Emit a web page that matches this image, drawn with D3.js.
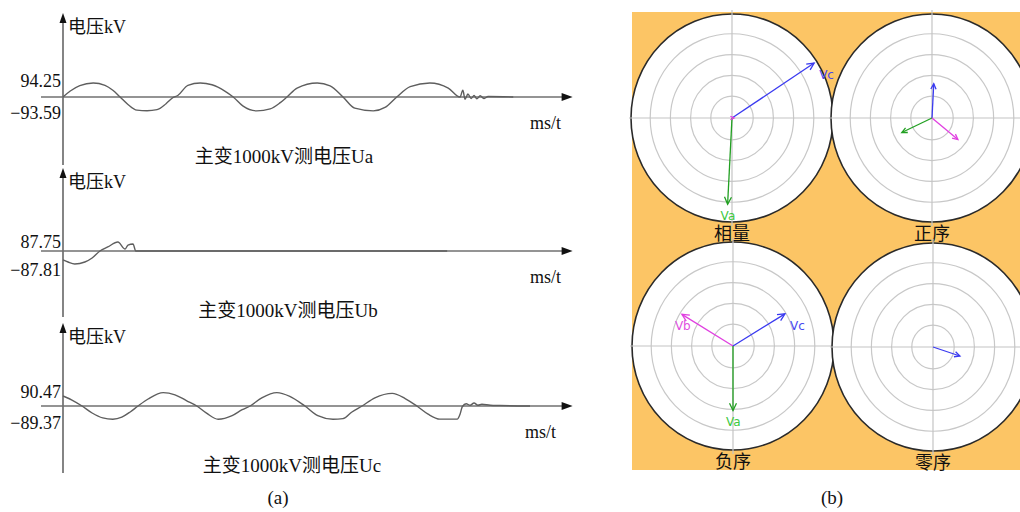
<!DOCTYPE html>
<html>
<head>
<meta charset="utf-8">
<script src="https://cdn.jsdelivr.net/npm/d3@7"></script>
<style>
  body { margin: 0; background: #fff; }
  text { font-family: "Liberation Serif", "Noto Sans CJK SC", serif; fill: #111; }
</style>
</head>
<body>
<div id="chart"></div>
<script>
// Waveform recordings (time in ms, voltage in kV)
const timeUa = [0, 1.3, 3.0, 5.4, 7.5, 8.9, 10.2, 11.6, 13.2, 15.0, 16.8, 18.4, 19.6, 20.5, 22.3, 24.5,
  26.6, 28.9, 30.4, 32.1, 34.6, 37.0, 38.8, 40.0, 41.8, 45.4, 47.7, 50.0, 52.1, 55.4, 57.5, 59.6,
  62.0, 65.5, 68.8, 70.9, 71.4, 71.8, 72.3, 72.9, 73.4, 73.9, 74.5, 75.2, 75.9, 80.4];
const voltUa = [0, 40, 76, 94, 78, 45, 0, -50, -88, -92, -85, -45, -5, 10, 78, 94,
  82, 40, 0, -60, -93, -80, -38, 0, 60, 94, 75, 0, -75, -93, -70, 0,
  70, 94, 60, 0, 45, -15, 20, -10, 10, -12, 8, -10, 3, 0];

const timeUb = [0, 0.9, 2.1, 3.9, 5.2, 6.6, 8.0, 9.8, 11.1, 11.6, 12.5, 13.0, 68.6];
const voltUb = [-60, -74, -87, -74, -47, 0, 27, 60, 13, 40, 47, 0, 0];

const timeUc = [0, 1.6, 3.4, 5.2, 7.1, 8.9, 10.5, 12.0, 13.4, 15.2, 17.9, 20.0, 22.1, 23.9, 25.7, 27.7,
  30.2, 32.0, 33.4, 35.5, 38.2, 40.5, 43.2, 45.5, 48.2, 50.0, 51.6, 53.4, 55.7, 58.8, 61.1, 63.2,
  65.2, 67.3, 70.4, 70.9, 71.3, 72.0, 72.7, 73.4, 74.1, 74.8, 76.3, 78.0, 83.4];
const voltUc = [67, 40, 0, -47, -80, -89, -75, -40, 0, 47, 90, 75, 35, 0, -50, -89,
  -65, -25, 0, 55, 90, 65, 0, -65, -89, -85, -40, 0, 55, 85, 50, 0,
  -55, -88, -88, -55, -5, 15, 5, 20, 5, 12, 5, 3, 0];

// peak labels shown on each y axis
const peakUa = [94.25, -93.59];
const peakUb = [87.75, -87.81];
const peakUc = [90.47, -89.37];
const waveTitles = ["主变1000kV测电压Ua", "主变1000kV测电压Ub", "主变1000kV测电压Uc"];

// Phasor diagrams (magnitude on a 0-100 scale, angle in degrees)
const diagramNames = ["相量", "正序", "负序", "零序"];
const xlPhase = ["Vc", "Va", "Vb"], xlMag = [97, 83, 2],  xlAng = [33, 267, 0];
const zxPhase = ["Vc", "Va", "Vb"], zxMag = [33, 33, 33], zxAng = [87, 205, 321];
const fxPhase = ["Vb", "Vc", "Va"], fxMag = [59, 60, 62], fxAng = [149, 31, 270];
const lxPhase = ["Vc"],             lxMag = [28],         lxAng = [-18];

const width = 1020;
const height = 512;

const svg = d3.select("#chart")
  .append("svg")
  .attr("width", width)
  .attr("height", height)
  .attr("viewBox", [0, 0, width, height]);

/*
  Left: three waveforms
*/

const xScale = d3.scaleLinear().domain([0, 91]).range([63, 572.6]);

const panels = [
  {t: timeUa, v: voltUa, peak: peakUa, base: 97,  top: 13,  bottom: 165, hi: -10, lo: 22, msX: 530, titleX: 284},
  {t: timeUb, v: voltUb, peak: peakUb, base: 251, top: 168, bottom: 317, hi: -3,  lo: 25, msX: 530, titleX: 288},
  {t: timeUc, v: voltUc, peak: peakUc, base: 406, top: 323, bottom: 473, hi: -8,  lo: 23, msX: 525, titleX: 292}
];

const fmt = d3.format(".2f");

panels.forEach((p, k) => {
  const yScale = d3.scaleLinear().domain([-100, 100]).range([p.base + 14.9, p.base - 14.9]);
  const g = svg.append("g");

  // y axis with arrow
  g.append("line")
    .attr("x1", 63).attr("x2", 63)
    .attr("y1", p.top + 6).attr("y2", p.bottom)
    .attr("stroke", "#666").attr("stroke-width", 1.6);
  g.append("path")
    .attr("d", `M63,${p.top} L59.5,${p.top + 10} L66.5,${p.top + 10} Z`)
    .attr("fill", "#111");

  // x axis with arrow
  const xEnd = xScale(91);
  g.append("line")
    .attr("x1", 41).attr("x2", xEnd - 6)
    .attr("y1", yScale(0)).attr("y2", yScale(0))
    .attr("stroke", "#707070").attr("stroke-width", 1.6);
  g.append("path")
    .attr("d", `M${xEnd},${yScale(0)} L${xEnd - 11},${yScale(0) - 4} L${xEnd - 11},${yScale(0) + 4} Z`)
    .attr("fill", "#111");

  // the recorded signal
  const line = d3.line()
    .x((d, i) => xScale(p.t[i]))
    .y(d => yScale(d))
    .curve(d3.curveMonotoneX);
  g.append("path")
    .datum(p.v)
    .attr("d", line)
    .attr("fill", "none")
    .attr("stroke", "#5e5e5e")
    .attr("stroke-width", 1.4);

  // labels
  g.append("text").attr("x", 61).attr("y", p.base + p.hi)
    .attr("text-anchor", "end").attr("font-size", 18).text(fmt(p.peak[0]));
  g.append("text").attr("x", 61).attr("y", p.base + p.lo)
    .attr("text-anchor", "end").attr("font-size", 18).text(fmt(p.peak[1]));
  g.append("text").attr("x", 68).attr("y", p.top + 20)
    .attr("font-size", 18).text("电压kV");
  g.append("text").attr("x", p.msX).attr("y", p.base + 32)
    .attr("font-size", 18).text("ms/t");
  g.append("text").attr("x", p.titleX).attr("y", p.base + 66)
    .attr("text-anchor", "middle").attr("font-size", 19).text(waveTitles[k]);
});

/*
  Right: phasor diagrams
*/

svg.append("rect")
  .attr("x", 632).attr("y", 12)
  .attr("width", 388).attr("height", 458)
  .attr("fill", "#fcc565");

const rScale = d3.scaleLinear().domain([0, 100]).range([0, 101]);
const ky = 1.03; // circles are drawn a little taller than wide
const ringValues = [21, 41, 61, 81];
const phaseColor = {Va: "#22a022", Vb: "#e040e0", Vc: "#3a3af0"};
const labelColor = {Va: "#40c840", Vb: "#e050e0", Vc: "#4848f0"};

const diagrams = [
  {phase: xlPhase, mag: xlMag, ang: xlAng, cx: 732, cy: 118, labels: true},
  {phase: zxPhase, mag: zxMag, ang: zxAng, cx: 932, cy: 118, labels: false},
  {phase: fxPhase, mag: fxMag, ang: fxAng, cx: 733, cy: 346, labels: true},
  {phase: lxPhase, mag: lxMag, ang: lxAng, cx: 933, cy: 347, labels: false}
];

diagrams.forEach((dg, k) => {
  const g = svg.append("g");
  const R = rScale(100);

  g.append("ellipse")
    .attr("cx", dg.cx).attr("cy", dg.cy)
    .attr("rx", R).attr("ry", R * ky)
    .attr("fill", "#fff").attr("stroke", "#2a2a2a").attr("stroke-width", 1.6);

  g.selectAll(".ring")
    .data(ringValues)
    .enter()
    .append("ellipse")
      .attr("cx", dg.cx).attr("cy", dg.cy)
      .attr("rx", d => rScale(d)).attr("ry", d => rScale(d) * ky)
      .attr("fill", "none").attr("stroke", "#c8c8c8").attr("stroke-width", 1.2);

  g.append("line")
    .attr("x1", dg.cx - R - 2).attr("x2", dg.cx + R + 2)
    .attr("y1", dg.cy).attr("y2", dg.cy)
    .attr("stroke", "#c4c4c4").attr("stroke-width", 1.2);
  g.append("line")
    .attr("x1", dg.cx).attr("x2", dg.cx)
    .attr("y1", dg.cy - R * ky - 4).attr("y2", dg.cy + R * ky + 4)
    .attr("stroke", "#c4c4c4").attr("stroke-width", 1.2);

  dg.phase.forEach((ph, i) => {
    const a = dg.ang[i] * Math.PI / 180;
    const r = rScale(dg.mag[i]);
    const tx = dg.cx + r * Math.cos(a);
    const ty = dg.cy - r * ky * Math.sin(a);
    const phi = Math.atan2(ty - dg.cy, tx - dg.cx);
    const L = dg.mag[i] > 40 ? 8 : (dg.mag[i] > 10 ? 6 : 4);

    g.append("line")
      .attr("x1", dg.cx).attr("y1", dg.cy)
      .attr("x2", tx).attr("y2", ty)
      .attr("stroke", phaseColor[ph]).attr("stroke-width", 1.3);
    g.append("path")
      .attr("d", `M${tx - L * Math.cos(phi - 0.45)},${ty - L * Math.sin(phi - 0.45)}
                  L${tx},${ty}
                  L${tx - L * Math.cos(phi + 0.45)},${ty - L * Math.sin(phi + 0.45)}`)
      .attr("fill", "none")
      .attr("stroke", phaseColor[ph]).attr("stroke-width", 1.3);

    if (dg.labels && dg.mag[i] > 10) {
      g.append("text")
        .attr("x", tx + (Math.cos(a) > 0.3 ? 5 : -7))
        .attr("y", ty + 16)
        .attr("font-size", 12)
        .style("font-family", "'DejaVu Sans', sans-serif")
        .style("fill", labelColor[ph])
        .text(ph);
    }
  });

  g.append("text")
    .attr("x", dg.cx).attr("y", dg.cy + 122)
    .attr("text-anchor", "middle")
    .attr("font-size", 18)
    .text(diagramNames[k]);
});

// panel captions
svg.append("text").attr("x", 278).attr("y", 504)
  .attr("text-anchor", "middle").attr("font-size", 19).text("(a)");
svg.append("text").attr("x", 832).attr("y", 504)
  .attr("text-anchor", "middle").attr("font-size", 19).text("(b)");
</script>
</body>
</html>
